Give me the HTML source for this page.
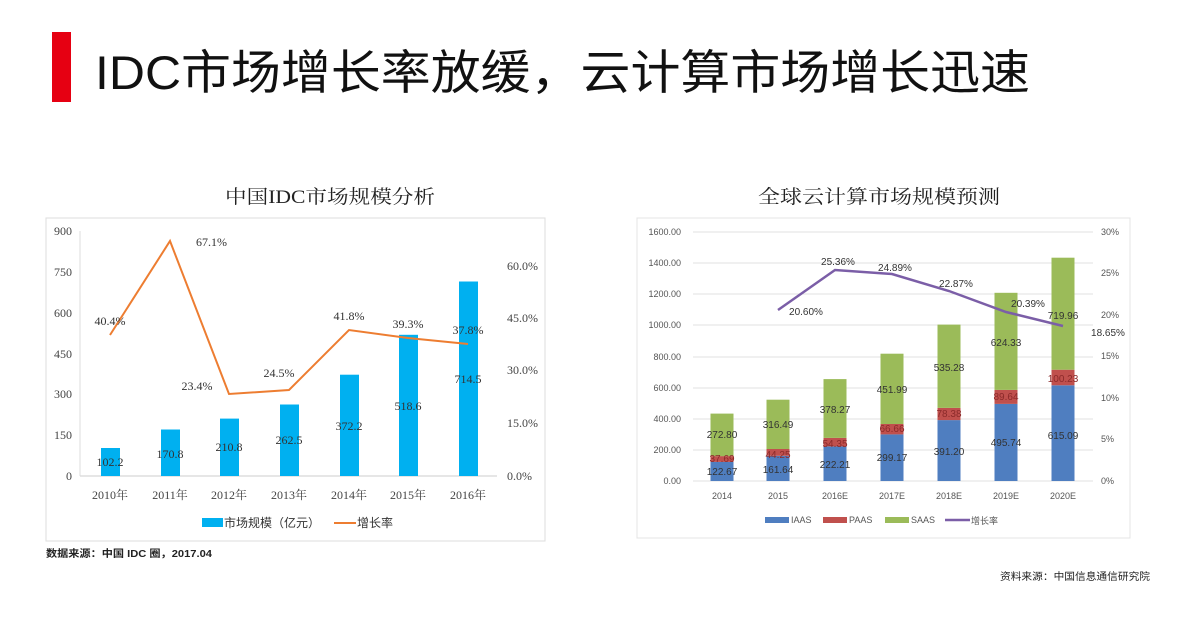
<!DOCTYPE html>
<html><head><meta charset="utf-8"><style>
body{margin:0;background:#fff;width:1195px;height:632px;overflow:hidden}
svg{display:block;font-family:"Liberation Sans","Noto Sans CJK SC",sans-serif}
.s{font-family:"Liberation Serif","Noto Serif CJK SC",serif}
</style></head><body>
<svg width="1195" height="632" viewBox="0 0 1195 632">
<rect x="52" y="32" width="19" height="70" fill="#e60012"/>
<text x="95" y="89" font-size="47" fill="#111" textLength="935" lengthAdjust="spacingAndGlyphs">IDC市场增长率放缓，云计算市场增长迅速</text>
<text x="225" y="203" font-size="19" class="s" fill="#222" textLength="210" lengthAdjust="spacingAndGlyphs">中国IDC市场规模分析</text>
<text x="758" y="203" font-size="19" class="s" fill="#222" textLength="242" lengthAdjust="spacingAndGlyphs">全球云计算市场规模预测</text>

<!-- left chart -->
<rect x="46" y="218" width="499" height="323" fill="#fff" stroke="#ddd"/>
<line x1="80" y1="476" x2="497" y2="476" stroke="#ccc"/>
<line x1="80" y1="231" x2="80" y2="476" stroke="#ddd"/>
<g class="s" font-size="12" fill="#444" text-anchor="end">
<text x="72" y="235">900</text><text x="72" y="276">750</text><text x="72" y="317">600</text><text x="72" y="358">450</text><text x="72" y="398">300</text><text x="72" y="439">150</text><text x="72" y="480">0</text>
</g>
<g class="s" font-size="12" fill="#444">
<text x="507" y="270">60.0%</text><text x="507" y="322">45.0%</text><text x="507" y="374">30.0%</text><text x="507" y="427">15.0%</text><text x="507" y="480">0.0%</text>
</g>
<g fill="#00b0f0">
<rect x="101" y="448" width="19" height="28"/><rect x="161" y="429.5" width="19" height="46.5"/><rect x="220" y="418.6" width="19" height="57.4"/><rect x="280" y="404.5" width="19" height="71.5"/><rect x="340" y="374.7" width="19" height="101.3"/><rect x="399" y="334.8" width="19" height="141.2"/><rect x="459" y="281.5" width="19" height="194.5"/>
</g>
<polyline points="110,335 170,241 229,394 289,390 349,330 408,338 468,344" fill="none" stroke="#ed7d31" stroke-width="2"/>
<g class="s" font-size="12" fill="#333" text-anchor="middle">
<text x="110" y="466">102.2</text><text x="170" y="458">170.8</text><text x="229" y="451">210.8</text><text x="289" y="444">262.5</text><text x="349" y="430">372.2</text><text x="408" y="410">518.6</text><text x="468" y="383">714.5</text>
<text x="110" y="325">40.4%</text><text x="196" y="246" text-anchor="start">67.1%</text><text x="197" y="390">23.4%</text><text x="279" y="377">24.5%</text><text x="349" y="320">41.8%</text><text x="408" y="328">39.3%</text><text x="468" y="334">37.8%</text>
</g>
<g class="s" font-size="12" fill="#444" text-anchor="middle">
<text x="110" y="499">2010年</text><text x="170" y="499">2011年</text><text x="229" y="499">2012年</text><text x="289" y="499">2013年</text><text x="349" y="499">2014年</text><text x="408" y="499">2015年</text><text x="468" y="499">2016年</text>
</g>
<rect x="202" y="518" width="21" height="9" fill="#00b0f0"/>
<text x="224" y="527" font-size="12" fill="#333">市场规模（亿元）</text>
<line x1="334" y1="523" x2="356" y2="523" stroke="#ed7d31" stroke-width="2"/>
<text x="357" y="527" font-size="12" fill="#333">增长率</text>
<text x="46" y="557" font-size="10" font-weight="bold" fill="#222" textLength="166" lengthAdjust="spacingAndGlyphs">数据来源：中国 IDC 圈，2017.04</text>

<!-- right chart -->
<rect x="637" y="218" width="493" height="320" fill="#fff" stroke="#e4e4e4"/>
<g stroke="#e2e2e2">
<line x1="693" y1="232" x2="1093" y2="232"/><line x1="693" y1="263" x2="1093" y2="263"/><line x1="693" y1="294" x2="1093" y2="294"/><line x1="693" y1="325" x2="1093" y2="325"/><line x1="693" y1="357" x2="1093" y2="357"/><line x1="693" y1="388" x2="1093" y2="388"/><line x1="693" y1="419" x2="1093" y2="419"/><line x1="693" y1="450" x2="1093" y2="450"/><line x1="693" y1="481" x2="1093" y2="481"/>
</g>
<g font-size="9" fill="#555" text-anchor="end">
<text x="681" y="235">1600.00</text><text x="681" y="266">1400.00</text><text x="681" y="297">1200.00</text><text x="681" y="328">1000.00</text><text x="681" y="360">800.00</text><text x="681" y="391">600.00</text><text x="681" y="422">400.00</text><text x="681" y="453">200.00</text><text x="681" y="484">0.00</text>
</g>
<g font-size="9" fill="#555">
<text x="1101" y="235">30%</text><text x="1101" y="276">25%</text><text x="1101" y="318">20%</text><text x="1101" y="359">15%</text><text x="1101" y="401">10%</text><text x="1101" y="442">5%</text><text x="1101" y="484">0%</text>
</g>
<g>
<rect x="710.5" y="461.9" width="23" height="19.1" fill="#4f7ec0"/><rect x="710.5" y="456.1" width="23" height="5.8" fill="#c0504d"/><rect x="710.5" y="413.6" width="23" height="42.5" fill="#9bbb59"/>
<rect x="766.5" y="455.8" width="23" height="25.2" fill="#4f7ec0"/><rect x="766.5" y="449.0" width="23" height="6.8" fill="#c0504d"/><rect x="766.5" y="399.7" width="23" height="49.3" fill="#9bbb59"/>
<rect x="823.5" y="446.4" width="23" height="34.6" fill="#4f7ec0"/><rect x="823.5" y="437.9" width="23" height="8.5" fill="#c0504d"/><rect x="823.5" y="379.1" width="23" height="58.8" fill="#9bbb59"/>
<rect x="880.5" y="434.4" width="23" height="46.6" fill="#4f7ec0"/><rect x="880.5" y="424.0" width="23" height="10.4" fill="#c0504d"/><rect x="880.5" y="353.7" width="23" height="70.3" fill="#9bbb59"/>
<rect x="937.5" y="420.1" width="23" height="60.9" fill="#4f7ec0"/><rect x="937.5" y="407.9" width="23" height="12.2" fill="#c0504d"/><rect x="937.5" y="324.6" width="23" height="83.3" fill="#9bbb59"/>
<rect x="994.5" y="403.9" width="23" height="77.1" fill="#4f7ec0"/><rect x="994.5" y="389.9" width="23" height="14.0" fill="#c0504d"/><rect x="994.5" y="292.8" width="23" height="97.1" fill="#9bbb59"/>
<rect x="1051.5" y="385.3" width="23" height="95.7" fill="#4f7ec0"/><rect x="1051.5" y="369.7" width="23" height="15.6" fill="#c0504d"/><rect x="1051.5" y="257.7" width="23" height="112" fill="#9bbb59"/>
</g>
<polyline points="778,310 835,270 892,274 949,291 1006,312 1063,326" fill="none" stroke="#7b5ea7" stroke-width="2.5"/>
<g font-size="10" fill="#333" text-anchor="middle">
<text x="722" y="475">122.67</text><text x="722" y="462" fill="#8b2a2a">37.69</text><text x="722" y="438">272.80</text>
<text x="778" y="473">161.64</text><text x="778" y="458" fill="#8b2a2a">44.25</text><text x="778" y="428">316.49</text>
<text x="835" y="468">222.21</text><text x="835" y="447" fill="#8b2a2a">54.35</text><text x="835" y="413">378.27</text>
<text x="892" y="461">299.17</text><text x="892" y="432" fill="#8b2a2a">66.66</text><text x="892" y="393">451.99</text>
<text x="949" y="455">391.20</text><text x="949" y="417" fill="#8b2a2a">78.38</text><text x="949" y="371">535.28</text>
<text x="1006" y="446">495.74</text><text x="1006" y="400" fill="#8b2a2a">89.64</text><text x="1006" y="346">624.33</text>
<text x="1063" y="439">615.09</text><text x="1063" y="382" fill="#8b2a2a">100.23</text><text x="1063" y="319">719.96</text>
<text x="806" y="315">20.60%</text><text x="838" y="265">25.36%</text><text x="895" y="271">24.89%</text><text x="956" y="287">22.87%</text><text x="1028" y="307">20.39%</text><text x="1108" y="336">18.65%</text>
</g>
<g font-size="9" fill="#555" text-anchor="middle">
<text x="722" y="499">2014</text><text x="778" y="499">2015</text><text x="835" y="499">2016E</text><text x="892" y="499">2017E</text><text x="949" y="499">2018E</text><text x="1006" y="499">2019E</text><text x="1063" y="499">2020E</text>
</g>
<g font-size="9" fill="#555">
<rect x="765" y="517" width="24" height="6" fill="#4f7ec0"/><text x="791" y="523">IAAS</text>
<rect x="823" y="517" width="24" height="6" fill="#c0504d"/><text x="849" y="523">PAAS</text>
<rect x="885" y="517" width="24" height="6" fill="#9bbb59"/><text x="911" y="523">SAAS</text>
<line x1="945" y1="520" x2="970" y2="520" stroke="#7b5ea7" stroke-width="2.5"/><text x="971" y="524">增长率</text>
</g>
<text x="1000" y="580" font-size="10" fill="#222" textLength="150" lengthAdjust="spacingAndGlyphs">资料来源：中国信息通信研究院</text>
</svg>
</body></html>
